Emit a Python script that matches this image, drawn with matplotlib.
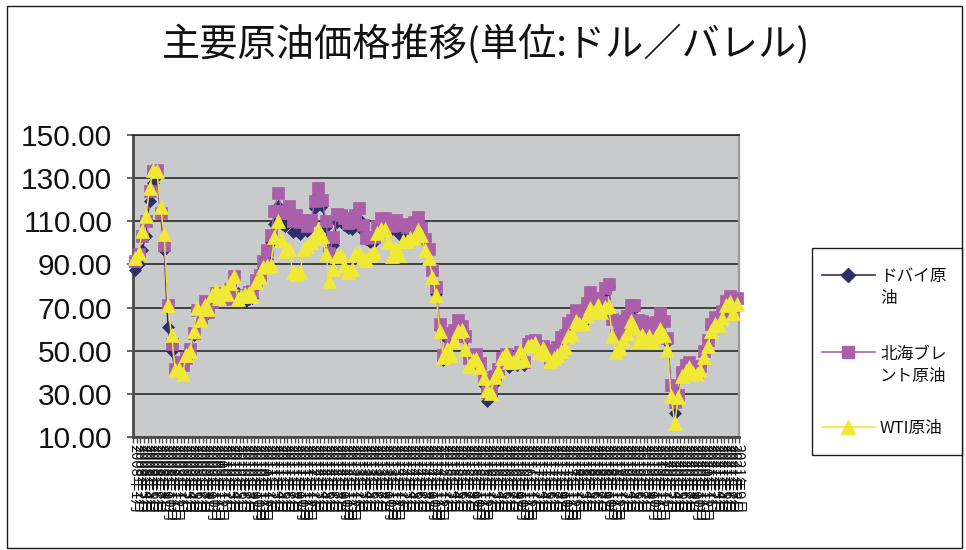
import matplotlib
matplotlib.use("Agg")
import matplotlib.pyplot as plt
from matplotlib.lines import Line2D
from matplotlib.patches import Rectangle
import numpy as np

# ---- data: monthly average crude prices (USD/bbl), Jan 2008 - Sep 2021 ----
START_YEAR = 2008
START_MONTH = 1

dubai = [
    87.3, 90.0, 96.7, 103.4, 119.4, 127.8, 131.2, 113.2, 96.8, 61.0, 49.8, 40.5,
    44.1, 43.1, 45.6, 50.1, 57.5, 68.6, 64.8, 71.4, 67.7, 73.2, 77.0, 75.4,
    76.6, 73.8, 77.0, 84.0, 76.6, 73.9, 72.6, 73.9, 74.4, 80.0, 83.1, 88.1,
    92.3, 100.2, 108.7, 117.0, 108.6, 107.8, 109.6, 105.2, 105.9, 104.3, 107.8, 105.5,
    109.8, 116.2, 122.5, 117.3, 107.4, 94.4, 99.1, 109.5, 111.0, 108.4, 106.9, 106.5,
    107.9, 111.1, 105.6, 101.6, 100.4, 100.3, 103.5, 107.2, 108.3, 106.3, 106.3, 108.0,
    104.0, 105.0, 104.2, 104.7, 105.5, 108.0, 106.0, 101.8, 96.5, 86.7, 76.3, 60.2,
    45.6, 55.4, 54.6, 57.6, 62.6, 60.4, 55.4, 47.4, 45.6, 46.3, 41.6, 33.9,
    26.9, 29.0, 35.1, 39.0, 44.4, 46.3, 42.5, 44.0, 43.3, 48.1, 43.6, 52.2,
    53.7, 54.4, 51.2, 51.7, 49.8, 45.9, 47.6, 50.2, 53.5, 54.8, 60.6, 61.6,
    66.2, 62.7, 63.0, 68.3, 74.4, 73.6, 73.1, 72.2, 77.2, 79.4, 65.6, 57.3,
    59.1, 65.2, 66.7, 70.9, 69.4, 61.8, 63.3, 59.1, 61.1, 59.4, 62.1, 64.9,
    64.3, 54.2, 33.7, 21.0, 30.5, 40.8, 43.3, 44.0, 41.5, 40.7, 43.4, 49.8,
    54.8, 60.9, 64.4, 62.9, 66.4, 71.6, 72.9, 69.5, 72.6,
]

brent = [
    91.7, 94.8, 103.3, 110.2, 123.9, 133.1, 133.9, 113.9, 99.1, 71.0, 53.2, 41.6,
    44.9, 43.2, 46.8, 50.9, 58.2, 69.1, 65.0, 73.1, 68.0, 72.7, 76.7, 74.5,
    76.2, 73.8, 78.8, 84.8, 76.0, 74.8, 75.6, 77.0, 77.8, 82.7, 85.3, 91.5,
    96.5, 103.7, 114.6, 123.3, 115.0, 113.8, 117.0, 110.2, 112.8, 109.6, 110.8, 107.9,
    110.7, 119.3, 125.5, 119.8, 110.3, 95.2, 102.6, 113.4, 112.9, 111.7, 109.1, 109.5,
    113.0, 116.1, 108.5, 102.3, 102.6, 102.9, 107.9, 111.3, 111.6, 109.1, 107.8, 110.8,
    108.1, 108.9, 107.5, 107.8, 109.5, 111.8, 106.8, 101.6, 97.1, 87.4, 79.4, 62.3,
    47.8, 58.1, 55.9, 59.5, 64.1, 61.5, 56.6, 46.5, 47.6, 48.4, 44.3, 38.0,
    30.7, 32.2, 38.2, 41.6, 46.7, 48.3, 45.0, 45.8, 46.6, 49.5, 44.7, 53.3,
    54.6, 54.9, 51.6, 52.3, 50.3, 46.4, 48.5, 51.7, 56.2, 57.5, 62.7, 64.4,
    69.1, 65.3, 66.0, 72.1, 77.0, 74.4, 74.3, 72.5, 78.9, 81.0, 64.8, 57.4,
    59.4, 64.0, 66.1, 71.2, 71.3, 64.2, 63.9, 59.0, 62.8, 59.7, 63.2, 67.3,
    63.7, 55.7, 34.0, 26.0, 29.4, 40.3, 43.2, 44.7, 40.9, 40.2, 42.7, 50.0,
    54.8, 62.3, 65.4, 64.8, 68.5, 73.2, 75.2, 70.8, 74.5,
]

wti = [
    93.0, 95.4, 105.6, 112.6, 125.4, 133.9, 133.4, 116.7, 103.9, 71.0, 57.4, 41.0,
    41.7, 39.2, 48.0, 49.8, 59.2, 69.7, 64.1, 71.1, 69.5, 75.8, 78.1, 74.3,
    78.2, 76.4, 81.2, 84.5, 73.8, 75.4, 76.4, 76.8, 75.3, 81.9, 84.1, 89.0,
    89.4, 89.6, 102.9, 110.0, 101.4, 96.3, 97.3, 86.3, 85.5, 86.3, 97.2, 98.6,
    100.3, 102.2, 106.2, 103.3, 94.7, 82.3, 87.9, 94.1, 94.5, 89.5, 86.5, 87.9,
    94.8, 95.3, 92.9, 92.0, 94.5, 95.8, 104.7, 106.6, 106.3, 100.5, 93.9, 97.6,
    94.6, 100.8, 100.8, 102.1, 102.2, 105.8, 103.6, 96.5, 93.2, 84.4, 75.8, 59.3,
    47.2, 50.6, 47.8, 54.5, 59.3, 59.8, 50.9, 42.9, 45.5, 46.2, 42.4, 37.2,
    31.7, 30.3, 37.6, 40.8, 46.7, 48.8, 44.7, 44.7, 45.2, 49.8, 45.7, 52.0,
    52.5, 53.5, 49.3, 51.1, 48.5, 45.2, 46.6, 48.0, 49.8, 51.6, 56.6, 57.9,
    63.7, 62.2, 62.7, 66.3, 70.0, 67.9, 71.0, 68.1, 70.2, 70.8, 57.0, 49.5,
    51.4, 55.0, 58.2, 63.9, 60.8, 54.7, 57.4, 54.8, 57.0, 54.0, 57.0, 59.9,
    57.5, 50.5, 29.2, 16.6, 28.6, 38.3, 40.7, 42.3, 39.6, 39.4, 40.9, 47.0,
    52.0, 59.0, 62.3, 61.7, 65.2, 71.4, 72.5, 67.7, 71.5,
]

series_names = ["ドバイ原油", "北海ブレント原油", "WTI原油"]
legend_lines = [["ドバイ原", "油"], ["北海ブレ", "ント原油"], ["WTI原油"]]
y_ticks = [10, 30, 50, 70, 90, 110, 130, 150]
y_tick_labels = [f"{v:.2f}" for v in y_ticks]

n = len(wti)
month_labels = []
for k in range(n):
    m = START_MONTH - 1 + k
    month_labels.append(f"{START_YEAR + m // 12}年{m % 12 + 1}月")

title = "主要原油価格推移(単位:ドル／バレル)"

# ---- styling ----
JP = ["Noto Sans CJK JP", "DejaVu Sans"]
colors = ["#2D3068", "#AA5FA8", "#EFE935"]
markers = ["D", "s", "^"]
msizes = [6.2, 8.2, 9.8]

W, H = 966, 550
fig = plt.figure(figsize=(W / 100, H / 100), dpi=100)
fig.patch.set_facecolor("white")


def fx(px):
    return px / W


def fy(py):
    return 1 - py / H


# outer chart frame
fig.add_artist(Rectangle((fx(7), fy(548)), fx(962) - fx(7), fy(6) - fy(548),
                         transform=fig.transFigure, fill=False,
                         edgecolor="#1a1a1a", linewidth=1.0))

fig.text(fx(486), fy(46), title, family=JP, fontsize=27.5,
         ha="center", va="center", color="#111111")

ax = fig.add_axes([fx(133), fy(437), fx(739) - fx(133), fy(135) - fy(437)])
ax.set_facecolor("#C9CACC")
ax.set_xlim(-0.5, n - 0.5)
ax.set_ylim(10, 150)

x = np.arange(n)
for i, (vals, c, mk, ms) in enumerate(zip([dubai, brent, wti], colors, markers, msizes)):
    ax.plot(x, vals, color=c, lw=1.0, marker=mk, markersize=ms,
            markerfacecolor=c, markeredgecolor=c, markeredgewidth=0.5,
            zorder=3 + i, clip_on=False)

ax.set_yticks(y_ticks)
ax.set_yticklabels(y_tick_labels, family="Liberation Sans", fontsize=21.5,
                   color="#111111")
ax.yaxis.grid(True, color="#2a2a2a", linewidth=1.2)
ax.set_axisbelow(True)
ax.tick_params(axis="y", length=4, width=1.2, color="#4a4a4a", pad=11)

ax.set_xticks(x)
ax.set_xticklabels(month_labels, rotation=270, family=JP, fontsize=10.5,
                   color="#111111")
ax.tick_params(axis="x", which="major", length=0, pad=5)
ax.set_xticks(np.arange(-0.5, n, 1.0), minor=True)
ax.tick_params(axis="x", which="minor", length=4, width=1.0, color="#4a4a4a")
for lbl in ax.get_xticklabels():
    lbl.set_verticalalignment("top")
    lbl.set_horizontalalignment("center")

for side in ("left", "bottom"):
    ax.spines[side].set_color("#4a4a4a")
    ax.spines[side].set_linewidth(2.0)
ax.spines["top"].set_color("#2a2a2a")
ax.spines["top"].set_linewidth(1.2)
ax.spines["right"].set_color("#9a9a9a")
ax.spines["right"].set_linewidth(1.6)

# legend box
fig.add_artist(Rectangle((fx(812), fy(455)), fx(962) - fx(812), fy(248) - fy(455),
                         transform=fig.transFigure, facecolor="white",
                         edgecolor="#1a1a1a", linewidth=1.0, zorder=5))
legend_y = [275, 352, 427]
for lines, c, mk, ms, ly in zip(legend_lines, colors, markers, msizes, legend_y):
    fig.add_artist(Line2D([fx(822), fx(875)], [fy(ly), fy(ly)], color=c, lw=1.2,
                          transform=fig.transFigure, zorder=6))
    fig.add_artist(Line2D([fx(848)], [fy(ly)], marker=mk, markersize=ms + 0.5,
                          color=c, markeredgecolor=c, lw=0,
                          transform=fig.transFigure, zorder=7))
    for k, s in enumerate(lines):
        fig.text(fx(880), fy(ly + 2 + 22 * k), s, family=JP, fontsize=12,
                 ha="left", va="center", color="#111111", zorder=7)

fig.savefig("out.png", dpi=100, facecolor="white")
